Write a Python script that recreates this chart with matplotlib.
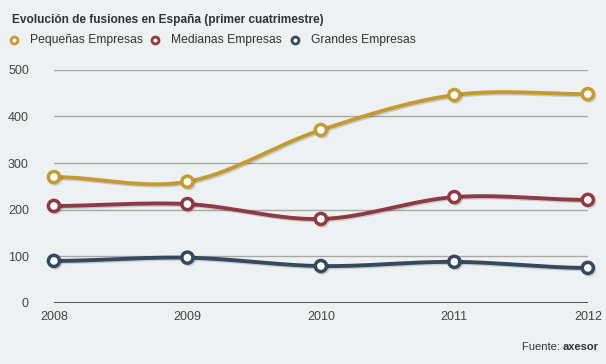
import numpy as np
import matplotlib
matplotlib.use("Agg")
import matplotlib.pyplot as plt
import matplotlib.patheffects as pe

plt.rcParams["font.family"] = ["Liberation Sans", "DejaVu Sans"]

years = [2008, 2009, 2010, 2011, 2012]
pequenas = [270, 260, 371, 446, 448]
medianas = [208, 212, 180, 227, 221]
grandes = [90, 97, 79, 88, 75]
series_names = ["Pequeñas Empresas", "Medianas Empresas", "Grandes Empresas"]
colors = ["#c49a32", "#8e3a44", "#34495e"]

bg = "#eef1f2"


def smooth(x, y, n=40):
    # spline through the points, flat tangents at the ends
    x = np.asarray(x, float)
    y = np.asarray(y, float)
    m = np.zeros_like(y)
    for i in range(1, len(x) - 1):
        m[i] = (y[i + 1] - y[i - 1]) / (x[i + 1] - x[i - 1])
    xs, ys = [], []
    for i in range(len(x) - 1):
        h = x[i + 1] - x[i]
        t = np.linspace(0, 1, n)
        h00 = 2 * t**3 - 3 * t**2 + 1
        h10 = t**3 - 2 * t**2 + t
        h01 = -2 * t**3 + 3 * t**2
        h11 = t**3 - t**2
        xs.append(x[i] + t * h)
        ys.append(h00 * y[i] + h10 * h * m[i] + h01 * y[i + 1] + h11 * h * m[i + 1])
    return np.concatenate(xs), np.concatenate(ys)


fig = plt.figure(figsize=(6.06, 3.64), dpi=100, facecolor=bg)
ax = fig.add_axes([0.089, 0.168, 0.881, 0.640])
ax.set_facecolor(bg)

for data, c in zip([pequenas, medianas, grandes], colors):
    sx, sy = smooth(years, data)
    shadow = [pe.SimpleLineShadow(offset=(1, -1), shadow_color="#000000", alpha=0.15), pe.Normal()]
    ax.plot(sx, sy, color=c, lw=2.8, zorder=3, solid_capstyle="round",
            path_effects=shadow, clip_on=False)
    ax.plot(years, data, ls="none", marker="o", ms=8, mfc="white", mec=c,
            mew=2.5, zorder=4, clip_on=False, path_effects=shadow)

ax.set_xlim(2008, 2012)
ax.set_ylim(0, 500)
ax.set_yticks([0, 100, 200, 300, 400, 500])
ax.set_xticks(years)
ax.grid(axis="y", color="#a8a8a8", lw=1)
ax.axhline(0, color="#444444", lw=1.3, zorder=2)
for s in ax.spines.values():
    s.set_visible(False)
ax.tick_params(length=0, labelsize=9, colors="#444444")
ax.tick_params(axis="y", pad=18)
ax.tick_params(axis="x", pad=6)

fig.text(0.02, 0.945, "Evolución de fusiones en España (primer cuatrimestre)",
         fontsize=8.6, fontweight="bold", color="#333333", va="center")

lx = [0.023, 0.256, 0.487]
for x, name, c in zip(lx, series_names, colors):
    fig.lines.append(plt.Line2D([x], [0.89], transform=fig.transFigure, marker="o",
                                ms=5, mfc="white", mec=c, mew=2, ls="none"))
    fig.text(x + 0.026, 0.89, name, fontsize=8.7, color="#333333", va="center")

t = fig.text(0.988, 0.048, "axesor", fontsize=8, color="#333333", ha="right",
             va="center", fontweight="bold")
fig.canvas.draw()
bb = t.get_window_extent()
fig.text(bb.x0 / fig.bbox.width, 0.048, "Fuente: ", fontsize=8, color="#333333",
         ha="right", va="center")

fig.savefig("out.png", dpi=100, facecolor=bg)
